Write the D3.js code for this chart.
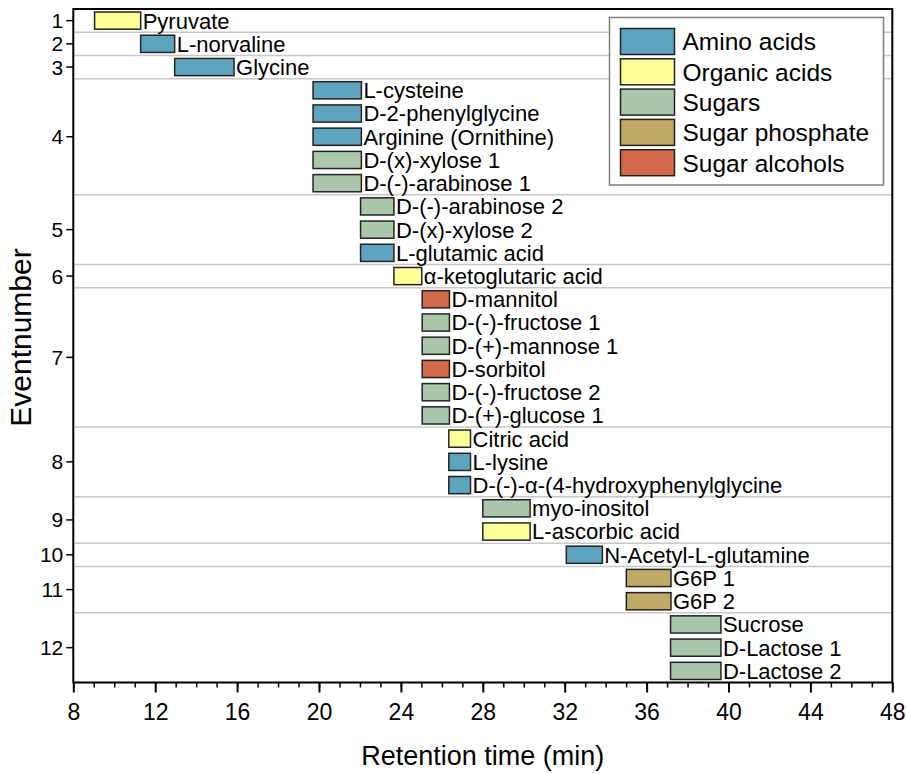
<!DOCTYPE html>
<html>
<head>
<meta charset="utf-8">
<script src="https://cdn.jsdelivr.net/npm/d3@7"></script>
<style>
  html, body { margin: 0; padding: 0; background: #fff; }
  svg { display: block; font-family: "Liberation Sans", Arial, sans-serif; }
</style>
</head>
<body>
<svg id="chart" width="906" height="773"></svg>
<script>
// Compounds in elution order, with their class, event number and retention window (min)
const compounds = [
  "Pyruvate", "L-norvaline", "Glycine",
  "L-cysteine", "D-2-phenylglycine", "Arginine (Ornithine)", "D-(x)-xylose 1", "D-(-)-arabinose 1",
  "D-(-)-arabinose 2", "D-(x)-xylose 2", "L-glutamic acid",
  "\u03b1-ketoglutaric acid",
  "D-mannitol", "D-(-)-fructose 1", "D-(+)-mannose 1", "D-sorbitol", "D-(-)-fructose 2", "D-(+)-glucose 1",
  "Citric acid", "L-lysine", "D-(-)-\u03b1-(4-hydroxyphenylglycine",
  "myo-inositol", "L-ascorbic acid",
  "N-Acetyl-L-glutamine",
  "G6P 1", "G6P 2",
  "Sucrose", "D-Lactose 1", "D-Lactose 2"
];
const compoundClass = [
  "Organic acids", "Amino acids", "Amino acids",
  "Amino acids", "Amino acids", "Amino acids", "Sugars", "Sugars",
  "Sugars", "Sugars", "Amino acids",
  "Organic acids",
  "Sugar alcohols", "Sugars", "Sugars", "Sugar alcohols", "Sugars", "Sugars",
  "Organic acids", "Amino acids", "Amino acids",
  "Sugars", "Organic acids",
  "Amino acids",
  "Sugar phosphate", "Sugar phosphate",
  "Sugars", "Sugars", "Sugars"
];
const eventNumber = [
  1, 2, 3,
  4, 4, 4, 4, 4,
  5, 5, 5,
  6,
  7, 7, 7, 7, 7, 7,
  8, 8, 8,
  9, 9,
  10,
  11, 11,
  12, 12, 12
];
const startTime = [
  9.04, 11.29, 12.95,
  19.71, 19.71, 19.71, 19.71, 19.71,
  22.03, 22.03, 22.03,
  23.66,
  25.04, 25.04, 25.04, 25.04, 25.04, 25.04,
  26.34, 26.34, 26.34,
  28.0, 28.0,
  32.08,
  35.01, 35.01,
  37.17, 37.17, 37.17
];
const endTime = [
  11.29, 12.95, 15.85,
  22.07, 22.07, 22.07, 22.07, 22.07,
  23.66, 23.66, 23.66,
  25.02,
  26.37, 26.37, 26.37, 26.37, 26.37, 26.37,
  27.4, 27.4, 27.4,
  30.31, 30.31,
  33.84,
  37.19, 37.19,
  39.63, 39.63, 39.63
];
const classNames = ["Amino acids", "Organic acids", "Sugars", "Sugar phosphate", "Sugar alcohols"];
const classColors = ["#5fa4bf", "#ffff99", "#abc7ab", "#bfaa68", "#d06a4a"];
const xTicks = [8, 12, 16, 20, 24, 28, 32, 36, 40, 44, 48];

const svg = d3.select("#chart");
const plotLeft = 73.3, plotRight = 892.3, plotTop = 9, plotBottom = 682.5;

const x = d3.scaleLinear().domain([8, 48]).range([plotLeft, plotRight]);
const y = d3.scalePoint().domain(d3.range(compounds.length)).range([plotTop, plotBottom]).padding(0.5);
const step = y.step();
const barH = step * 0.74;
const color = d3.scaleOrdinal().domain(classNames).range(classColors);

const rows = compounds.map((name, i) => ({
  name, cls: compoundClass[i], ev: eventNumber[i], t0: startTime[i], t1: endTime[i], i
}));

// Event groups: centre position for the axis label, lower edge for the separator
const events = d3.groups(rows, d => d.ev).map(([ev, rs]) => ({
  ev,
  mid: d3.mean(rs, r => y(r.i)),
  edge: y(d3.max(rs, r => r.i)) + step / 2
}));

// Separator lines between events
svg.append("g").selectAll("line")
  .data(events.slice(0, -1))
  .join("line")
  .attr("x1", plotLeft).attr("x2", plotRight)
  .attr("y1", d => d.edge).attr("y2", d => d.edge)
  .attr("stroke", "#c8c8c8").attr("stroke-width", 1.5);

// Retention windows
svg.append("g").selectAll("rect")
  .data(rows)
  .join("rect")
  .attr("x", d => x(d.t0))
  .attr("width", d => x(d.t1) - x(d.t0))
  .attr("y", d => y(d.i) - barH / 2)
  .attr("height", barH)
  .attr("fill", d => color(d.cls))
  .attr("stroke", "#222")
  .attr("stroke-width", 1.5);

// Compound names
svg.append("g").selectAll("text")
  .data(rows)
  .join("text")
  .attr("x", d => x(d.t1) + 2)
  .attr("y", d => y(d.i))
  .attr("dy", "0.36em")
  .attr("font-size", 22)
  .attr("fill", "#000")
  .text(d => d.name);

// Bottom axis: major ticks every 4 min, minor every minute
const xMinor = svg.append("g").attr("transform", `translate(0,${plotBottom})`);
xMinor.call(d3.axisBottom(x).tickValues(d3.range(8, 49, 1)).tickSize(5).tickFormat(""))
  .call(g => g.select(".domain").remove());
xMinor.selectAll("line").attr("stroke", "#000").attr("stroke-width", 1.5);
const xMajor = svg.append("g").attr("transform", `translate(0,${plotBottom})`);
xMajor.call(d3.axisBottom(x).tickValues(xTicks).tickSize(10).tickPadding(11).tickFormat(d3.format("d")))
  .call(g => g.select(".domain").remove());
xMajor.selectAll("line").attr("stroke", "#000").attr("stroke-width", 2);
xMajor.selectAll("text")
  .attr("font-size", 23).attr("fill", "#000")
  .attr("font-family", "'Liberation Sans', Arial, sans-serif");

// Left axis: one tick per event
const yAxis = svg.append("g").attr("transform", `translate(${plotLeft},0)`);
yAxis.selectAll("line")
  .data(events).join("line")
  .attr("x1", -7).attr("x2", 0)
  .attr("y1", d => d.mid).attr("y2", d => d.mid)
  .attr("stroke", "#000").attr("stroke-width", 1.5);
yAxis.selectAll("text")
  .data(events).join("text")
  .attr("x", -10).attr("y", d => d.mid).attr("dy", "0.36em")
  .attr("text-anchor", "end").attr("font-size", 21).attr("fill", "#000")
  .text(d => d.ev);

// Plot frame
svg.append("rect")
  .attr("x", plotLeft).attr("y", plotTop)
  .attr("width", plotRight - plotLeft).attr("height", plotBottom - plotTop)
  .attr("fill", "none").attr("stroke", "#000").attr("stroke-width", 2);

// Axis titles
svg.append("text")
  .attr("x", (plotLeft + plotRight) / 2).attr("y", 755).attr("dy", "0.36em")
  .attr("text-anchor", "middle").attr("font-size", 27).attr("fill", "#000")
  .text("Retention time (min)");
svg.append("text")
  .attr("transform", "translate(20,337.5) rotate(-90)")
  .attr("dy", "0.36em")
  .attr("text-anchor", "middle").attr("font-size", 30).attr("fill", "#000")
  .text("Eventnumber");

// Legend
const lg = svg.append("g").attr("transform", "translate(609.5,17.5)");
lg.append("rect")
  .attr("width", 274).attr("height", 167.5)
  .attr("fill", "#fff").attr("stroke", "#7f7f7f").attr("stroke-width", 1.5);
const item = lg.selectAll("g.item")
  .data(classNames).join("g")
  .attr("class", "item")
  .attr("transform", (d, i) => `translate(0,${24 + i * 30.3})`);
item.append("rect")
  .attr("x", 11).attr("y", -13).attr("width", 54).attr("height", 26)
  .attr("fill", d => color(d)).attr("stroke", "#222").attr("stroke-width", 1.5);
item.append("text")
  .attr("x", 73).attr("dy", "0.36em")
  .attr("font-size", 24.5).attr("fill", "#000")
  .text(d => d);
</script>
</body>
</html>
